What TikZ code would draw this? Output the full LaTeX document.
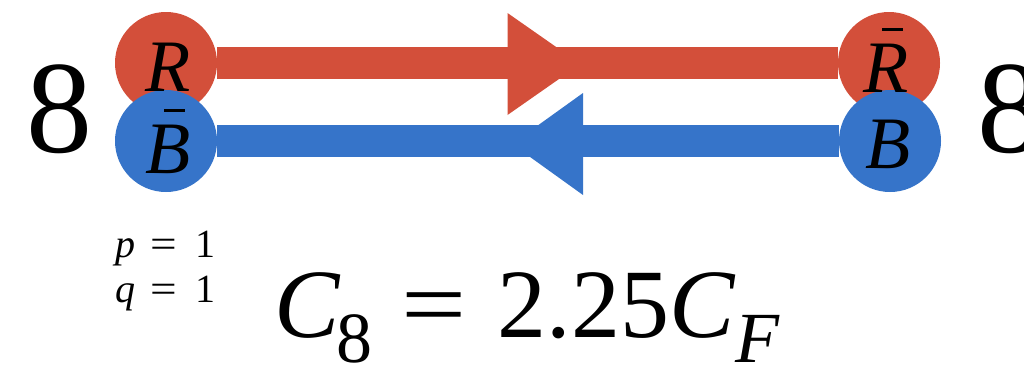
\documentclass[tikz,border=0pt]{standalone}
\usepackage{graphicx}
\usepackage{fontspec}
\setmainfont{Liberation Serif}
\usetikzlibrary{calc}
\definecolor{cred}{HTML}{D34F3A}
\definecolor{cblue}{HTML}{3674C9}
\newcommand\ovbar[1]{\setbox0\hbox{#1}\hbox{\rlap{\kern0.42\wd0\raise\dimexpr\ht0+0.17em\relax\hbox{\rule{0.45\wd0}{0.045em}}}\box0}}
\newcommand\wideeq{\scalebox{1.18}[1]{=}}
\begin{document}
\begin{tikzpicture}[x=1pt,y=-1pt,
  ball/.style={circle, minimum size=102pt, inner sep=0pt, draw=none},
  redball/.style={ball, fill=cred},
  blueball/.style={ball, fill=cblue},
  redbar/.style={draw=cred, line width=32pt},
  bluebar/.style={draw=cblue, line width=32pt},
  lbl/.style={font=\fontsize{74}{74}\selectfont\itshape, anchor=base, inner sep=0pt},
  big/.style={font=\fontsize{132}{132}\selectfont, anchor=base, inner sep=0pt},
  small/.style={font=\fontsize{40}{40}\selectfont, anchor=base west, inner sep=0pt}]
\useasboundingbox (0,0) rectangle (1024,364);
\node[redball] (Rl) at (166,63) {};
\node[redball] (Rr) at (889,63) {};
\draw[redbar] (Rl.east) -- (Rr.west);
\node[blueball] (Bl) at (166,141) {};
\node[blueball] (Br) at (890,141) {};
\draw[bluebar] (Bl.east) -- (Br.west);
\coordinate (rm) at ($(Rl.east)!0.5!(Rr.west)$);
\coordinate (bm) at ($(Bl.east)!0.5!(Br.west)$);
\fill[cred] ($(rm)+(-20,-50)$) -- ($(rm)+(53,1)$) -- ($(rm)+(-20,52)$) -- cycle;
\fill[cblue] ($(bm)+(55,-48)$) -- ($(bm)+(-16,3)$) -- ($(bm)+(55,54)$) -- cycle;
\node[lbl] (tR) at (168,91) {R};
\node[lbl] (tBb) at (168,173) {\ovbar{B}};
\node[lbl] (tRb) at (886,92) {\ovbar{R}};
\node[lbl] (tB) at (888,168) {B};
\node[big] (n8l) at (60,152) {8};
\node[big] (n8r) at (1010,152) {8};
\node[small] (p) at (115,257) {\textit{p}\hspace{15pt}\wideeq\hspace{19pt}1};
\node[small] (q) at (115,302) {\textit{q}\hspace{15pt}\wideeq\hspace{19pt}1};
\node[anchor=base west, inner sep=0pt, font=\fontsize{98}{98}\selectfont] (eq) at (274,337)
  {\textit{C}\kern-4pt\raisebox{-25pt}{\fontsize{72}{72}\selectfont 8}\hspace{29pt}\wideeq\hspace{31pt}2.25\textit{C}\raisebox{-25pt}{\fontsize{72}{72}\selectfont\textit{F}}};
\end{tikzpicture}
\end{document}
